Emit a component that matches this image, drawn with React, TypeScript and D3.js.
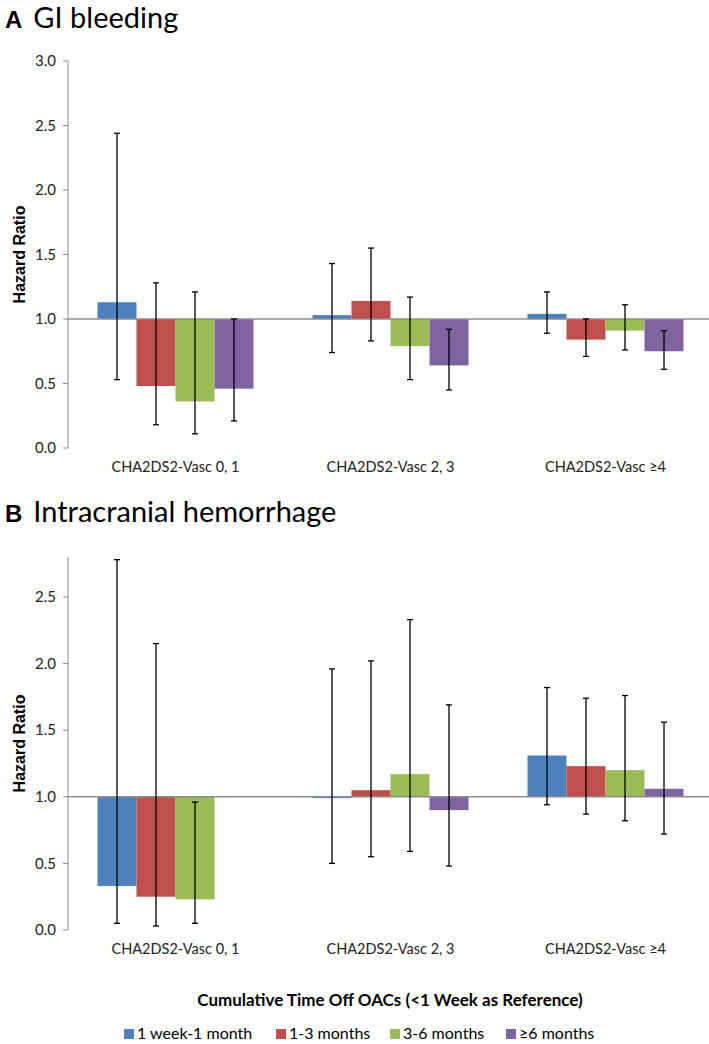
import React from "react";
import * as d3 from "d3";

const categories = ["CHA2DS2-Vasc 0, 1", "CHA2DS2-Vasc 2, 3", "CHA2DS2-Vasc \u22654"];
const seriesNames = ["1 week-1 month", "1-3 months", "3-6 months", "\u22656 months"];
const seriesColors = ["#4F81BD", "#C0504D", "#9BBB59", "#8064A2"];

// Panel A: GI bleeding (rows = categories, cols = series)
const giHR = [
  [1.13, 0.48, 0.36, 0.46],
  [1.03, 1.14, 0.79, 0.64],
  [1.04, 0.84, 0.91, 0.75],
];
const giLow = [
  [0.53, 0.18, 0.11, 0.21],
  [0.74, 0.83, 0.53, 0.45],
  [0.89, 0.71, 0.76, 0.61],
];
const giHigh = [
  [2.44, 1.28, 1.21, 1.0],
  [1.43, 1.55, 1.17, 0.92],
  [1.21, 1.0, 1.11, 0.91],
];

// Panel B: Intracranial hemorrhage (null = no bar)
const ichHR: (number | null)[][] = [
  [0.33, 0.25, 0.23, null],
  [0.99, 1.05, 1.17, 0.9],
  [1.31, 1.23, 1.2, 1.06],
];
const ichLow: (number | null)[][] = [
  [0.05, 0.03, 0.05, null],
  [0.5, 0.55, 0.59, 0.48],
  [0.94, 0.87, 0.82, 0.72],
];
const ichHigh: (number | null)[][] = [
  [2.78, 2.15, 0.96, null],
  [1.96, 2.02, 2.33, 1.69],
  [1.82, 1.74, 1.76, 1.56],
];

const ticksA = [0, 0.5, 1.0, 1.5, 2.0, 2.5, 3.0];
const ticksB = [0, 0.5, 1.0, 1.5, 2.0, 2.5];

const FONT = "Lato, 'Open Sans', sans-serif";
const BOLD = "'Liberation Sans', Arial, sans-serif";

function Panel({
  top, bottom, domainMax, ticks, hr, low, high,
}: {
  top: number; bottom: number; domainMax: number; ticks: number[];
  hr: (number | null)[][]; low: (number | null)[][]; high: (number | null)[][];
}) {
  const left = 68;
  const right = 713;
  const y = d3.scaleLinear().domain([0, domainMax]).range([bottom, top]);
  const x0 = d3.scaleBand<string>().domain(categories).range([left, right]).padding(0);
  const x1 = d3.scaleBand<string>().domain(seriesNames).range([0, x0.bandwidth()]).paddingInner(0).paddingOuter(0.756);
  const y1 = y(1);
  const fmt = d3.format(".1f");
  return (
    <g>
      {categories.map((c, ci) =>
        seriesNames.map((s, si) => {
          const v = hr[ci][si];
          if (v == null) return null;
          const xx = (x0(c) ?? 0) + (x1(s) ?? 0);
          const yv = y(v);
          return (
            <rect key={`b${ci}-${si}`} x={xx} y={Math.min(yv, y1)} width={x1.bandwidth()}
              height={Math.abs(yv - y1)} fill={seriesColors[si]} />
          );
        })
      )}
      <line x1={left} x2={709} y1={y1} y2={y1} stroke="#8c8c8c" strokeWidth={1.5} />
      <line x1={left} x2={left} y1={top} y2={bottom} stroke="#8c8c8c" strokeWidth={1} />
      {ticks.map((t) => (
        <g key={t}>
          <line x1={left - 5} x2={left} y1={y(t)} y2={y(t)} stroke="#8c8c8c" />
          <text x={left - 12} y={y(t)} dy="0.35em" textAnchor="end" fontFamily={FONT} fontSize={15} fill="#222">
            {fmt(t)}
          </text>
        </g>
      ))}
      {categories.map((c, ci) =>
        seriesNames.map((s, si) => {
          const lo = low[ci][si];
          const hi = high[ci][si];
          if (lo == null || hi == null) return null;
          const cx = (x0(c) ?? 0) + (x1(s) ?? 0) + x1.bandwidth() / 2;
          return (
            <g key={`e${ci}-${si}`} stroke="#000" strokeWidth={1.3}>
              <line x1={cx} x2={cx} y1={y(lo)} y2={y(hi)} />
              <line x1={cx - 3} x2={cx + 3} y1={y(lo)} y2={y(lo)} />
              <line x1={cx - 3} x2={cx + 3} y1={y(hi)} y2={y(hi)} />
            </g>
          );
        })
      )}
      {categories.map((c) => (
        <text key={c} x={(x0(c) ?? 0) + x0.bandwidth() / 2} y={bottom + 24} textAnchor="middle"
          fontFamily={FONT} fontSize={14.5} fill="#222">
          {c}
        </text>
      ))}
      <text transform={`translate(25,${(top + bottom) / 2}) rotate(-90)`} textAnchor="middle"
        fontFamily={BOLD} fontWeight="bold" fontSize={16} fill="#000">
        Hazard Ratio
      </text>
    </g>
  );
}

export default function App() {
  const legendX = [124, 276, 390, 506];
  return (
    <svg width={709} height={1044} style={{ position: "absolute", left: 0, top: 0, background: "#fff" }}>
      <text x={5} y={28} fontFamily={FONT} fontSize={29} fill="#000">
        <tspan fontWeight="bold" fontFamily={BOLD} fontSize={24}>A</tspan>
        <tspan dx={11}>GI bleeding</tspan>
      </text>
      <Panel top={61} bottom={448} domainMax={3} ticks={ticksA} hr={giHR} low={giLow} high={giHigh} />
      <text x={5} y={522} fontFamily={FONT} fontSize={29} fill="#000">
        <tspan fontWeight="bold" fontFamily={BOLD} fontSize={24}>B</tspan>
        <tspan dx={11}>Intracranial hemorrhage</tspan>
      </text>
      <Panel top={557} bottom={930} domainMax={2.8} ticks={ticksB} hr={ichHR} low={ichLow} high={ichHigh} />
      <text x={390} y={1006} textAnchor="middle" fontFamily={FONT} fontWeight="bold" fontSize={17} fill="#000">
        Cumulative Time Off OACs (&lt;1 Week as Reference)
      </text>
      {seriesNames.map((s, i) => (
        <g key={s}>
          <rect x={legendX[i]} y={1029} width={10} height={10} fill={seriesColors[i]} />
          <text x={legendX[i] + 13} y={1039} fontFamily={FONT} fontSize={16} fill="#000">{s}</text>
        </g>
      ))}
    </svg>
  );
}
